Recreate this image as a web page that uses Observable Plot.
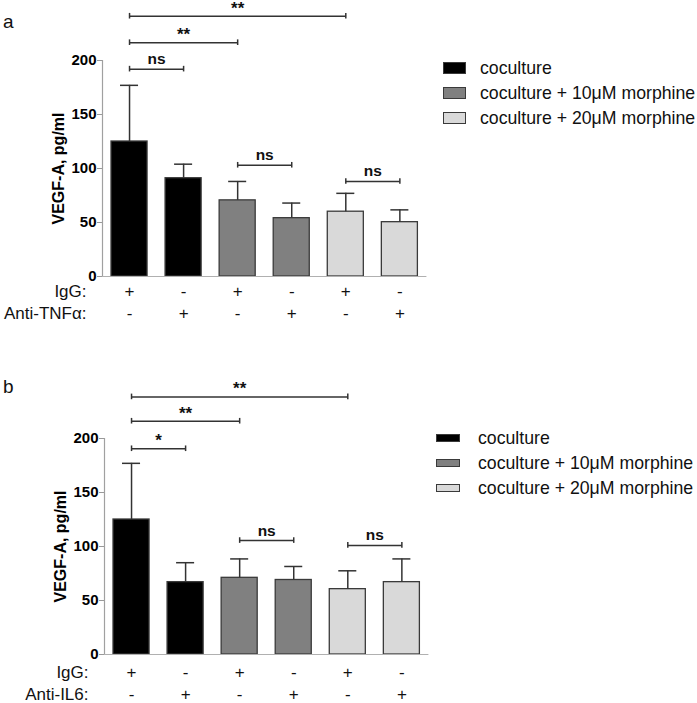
<!DOCTYPE html>
<html>
<head>
<meta charset="utf-8">
<script src="https://cdn.jsdelivr.net/npm/d3@7"></script>
<script src="https://cdn.jsdelivr.net/npm/@observablehq/plot@0.6"></script>
<style>
  html, body { margin: 0; padding: 0; background: #fff; }
  body { width: 697px; height: 703px; overflow: hidden; font-family: "Liberation Sans", Arial, sans-serif; }
  #wrap { position: relative; width: 697px; height: 703px; }
  .panel { position: absolute; left: 0; }
  .plabel { position: absolute; left: 3px; font-size: 19px; line-height: 1; color: #111; }
  .lrow { position: absolute; height: 24px; display: flex; align-items: center; white-space: nowrap; font-size: 17.7px; color: #111; }
  .sw { box-sizing: border-box; border: 1.3px solid #3a3a3a; }
</style>
</head>
<body>
<div id="wrap"></div>
<script>
// ---- data ----
const conditions = ["coculture", "coculture + 10μM morphine", "coculture + 20μM morphine"];
const condColors = ["#000000", "#808080", "#d9d9d9"];
const barIndex = [0, 1, 2, 3, 4, 5];
const barCondition = [0, 0, 1, 1, 2, 2];
const iggRow = ["+", "-", "+", "-", "+", "-"];
const blockRow = ["-", "+", "-", "+", "-", "+"];
const yTicks = [0, 50, 100, 150, 200];
const yLabel = "VEGF-A, pg/ml";

// panel a (Anti-TNFα)
const meanA = [125, 91, 70.5, 54, 60, 50.3];
const upperA = [177, 104, 88, 68, 77, 61.7];
const sigFromA = [0, 0, 0, 2, 4];
const sigToA = [1, 2, 4, 3, 5];
const sigYA = [192, 216.5, 241, 103, 88];
const sigLabelA = ["ns", "**", "**", "ns", "ns"];

// panel b (Anti-IL6)
const meanB = [125, 67, 71, 69, 60.5, 67];
const upperB = [177, 85, 88.5, 81.5, 77.5, 88.5];
const sigFromB = [0, 0, 0, 2, 4];
const sigToB = [1, 2, 4, 3, 5];
const sigYB = [190.5, 216, 238.5, 105.5, 101];
const sigLabelB = ["*", "**", "**", "ns", "ns"];

const xDomain = [-0.5, 5.5];
const sans = "'Liberation Sans', Arial, sans-serif";

function panel({mean, upper, sigFrom, sigTo, sigY, sigLabel, marginLeft, blockName, rowDy}) {
  const bars = barIndex.map(i => ({
    i, cond: conditions[barCondition[i]], mean: mean[i], upper: upper[i], igg: iggRow[i], block: blockRow[i]
  }));
  const sigs = sigFrom.map((f, k) => ({from: f, to: sigTo[k], y: sigY[k], label: sigLabel[k], mid: (f + sigTo[k]) / 2}));
  const caps = sigs.flatMap(s => [{x: s.from, y: s.y}, {x: s.to, y: s.y}]);
  const yMid = (yTicks[0] + yTicks[yTicks.length - 1]) / 2;
  const plotW = 324.4;
  return Plot.plot({
    width: 697, height: 330,
    marginTop: 60, marginBottom: 54, marginLeft, marginRight: 697 - marginLeft - plotW,
    x: {domain: xDomain, axis: null},
    y: {domain: [yTicks[0], yTicks[yTicks.length - 1]], axis: null},
    color: {domain: conditions, range: condColors},
    style: {fontFamily: sans, overflow: "visible", background: "transparent"},
    marks: [
      Plot.rectY(bars, {x1: d => d.i - 1/3, x2: d => d.i + 1/3, y1: 0, y2: "mean", fill: "cond", stroke: "#3a3a3a", strokeWidth: 1.3}),
      Plot.ruleX(bars, {x: "i", y1: "mean", y2: "upper", stroke: "#333", strokeWidth: 1.5}),
      Plot.ruleY(bars, {y: "upper", x1: d => d.i - 1/6, x2: d => d.i + 1/6, stroke: "#333", strokeWidth: 1.5}),
      Plot.ruleY([0], {stroke: "#b0b0b0", strokeWidth: 1.2}),
      Plot.ruleX([xDomain[0]], {y1: yTicks[0], y2: yTicks[yTicks.length - 1], stroke: "#a0a0a0", strokeWidth: 1.2}),
      Plot.axisY({ticks: yTicks, tickSize: 5, tickPadding: 1, stroke: "#999", fill: "#000", fontWeight: "bold", fontSize: 15, label: null}),
      Plot.text([yLabel], {x: () => xDomain[0], y: () => yMid, rotate: -90, textAnchor: "middle", dx: -44, fontWeight: "bold", fontSize: 16, fill: "#000"}),
      Plot.link(sigs, {x1: "from", x2: "to", y1: "y", y2: "y", stroke: "#333", strokeWidth: 1.5}),
      Plot.ruleX(caps, {x: "x", y1: d => d.y - 2.6, y2: d => d.y + 2.6, stroke: "#333", strokeWidth: 1.5}),
      Plot.text(sigs.filter(s => s.label === "ns"), {x: "mid", y: "y", text: "label", lineAnchor: "bottom", dy: -5, fontWeight: "bold", fontSize: 15.5, fill: "#111"}),
      Plot.text(sigs.filter(s => s.label !== "ns"), {x: "mid", y: "y", text: "label", lineAnchor: "bottom", dy: -2.5, fontWeight: "bold", fontSize: 17, fill: "#111"}),
      Plot.text(bars, {x: "i", frameAnchor: "bottom", text: "igg", lineAnchor: "bottom", dy: rowDy[0], fontSize: 17, fill: "#111"}),
      Plot.text(bars, {x: "i", frameAnchor: "bottom", text: "block", lineAnchor: "bottom", dy: rowDy[1], fontSize: 17, fill: "#111"}),
      Plot.text(["IgG:"], {frameAnchor: "bottom-left", textAnchor: "end", lineAnchor: "bottom", dx: -16, dy: rowDy[0], fontSize: 17, fill: "#111"}),
      Plot.text([blockName], {frameAnchor: "bottom-left", textAnchor: "end", lineAnchor: "bottom", dx: -16, dy: rowDy[1], fontSize: 17, fill: "#111"})
    ]
  });
}

function legend(wrap, {swLeft, swW, swH, textLeft, centers}) {
  conditions.forEach((c, k) => {
    const row = document.createElement("div");
    row.className = "lrow";
    row.style.left = swLeft + "px";
    row.style.top = (centers[k] - 12) + "px";
    const sw = document.createElement("span");
    sw.className = "sw";
    sw.style.width = swW + "px";
    sw.style.height = swH + "px";
    sw.style.background = condColors[k];
    sw.style.marginRight = (textLeft - swLeft - swW) + "px";
    const t = document.createElement("span");
    t.textContent = c;
    row.appendChild(sw);
    row.appendChild(t);
    wrap.appendChild(row);
  });
}

const wrap = document.getElementById("wrap");

const pa = panel({mean: meanA, upper: upperA, sigFrom: sigFromA, sigTo: sigToA, sigY: sigYA, sigLabel: sigLabelA,
  marginLeft: 102, blockName: "Anti-TNFα:", rowDy: [20.5, 42]});
pa.classList.add("panel"); pa.style.top = "0px";
wrap.appendChild(pa);

const pb = panel({mean: meanB, upper: upperB, sigFrom: sigFromB, sigTo: sigToB, sigY: sigYB, sigLabel: sigLabelB,
  marginLeft: 104, blockName: "Anti-IL6:", rowDy: [23, 45]});
pb.classList.add("panel"); pb.style.top = "378.3px";
wrap.appendChild(pb);

const la = document.createElement("div"); la.className = "plabel"; la.textContent = "a"; la.style.top = "12.4px"; wrap.appendChild(la);
const lb = document.createElement("div"); lb.className = "plabel"; lb.textContent = "b"; lb.style.top = "377.2px"; wrap.appendChild(lb);

legend(wrap, {swLeft: 443, swW: 23, swH: 12, textLeft: 480, centers: [68.3, 93.3, 118.3]});
legend(wrap, {swLeft: 436, swW: 24, swH: 8, textLeft: 478, centers: [438.3, 463.3, 488.3]});
</script>
</body>
</html>
